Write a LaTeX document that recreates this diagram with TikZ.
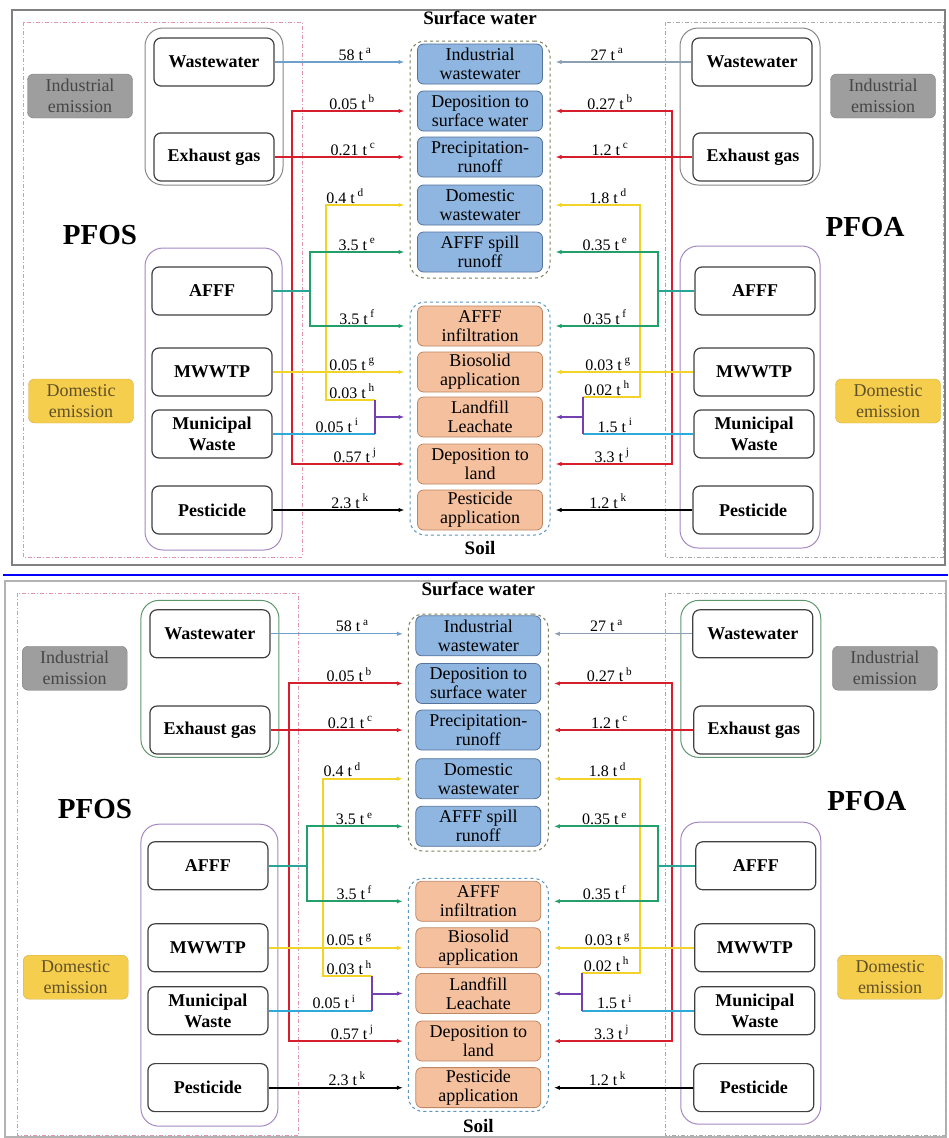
\documentclass[tikz,border=0pt]{standalone}
\usepackage{fontspec}
\setmainfont{Liberation Serif}
\usetikzlibrary{arrows.meta}

\definecolor{swfill}{RGB}{143,182,224}
\definecolor{swdraw}{RGB}{85,115,155}
\definecolor{soilfill}{RGB}{244,192,158}
\definecolor{soildraw}{RGB}{190,135,100}
\definecolor{indfill}{RGB}{158,158,158}
\definecolor{indtext}{RGB}{70,70,70}
\definecolor{domfill}{RGB}{246,206,78}
\definecolor{domtext}{RGB}{95,80,40}
\definecolor{wwblue}{RGB}{110,160,205}
\definecolor{wwgray}{RGB}{140,160,180}
\definecolor{flowred}{RGB}{215,30,45}
\definecolor{flowyel}{RGB}{242,212,40}
\definecolor{flowgrn}{RGB}{35,160,105}
\definecolor{flowteal}{RGB}{40,165,150}
\definecolor{flowpur}{RGB}{115,65,175}
\definecolor{flowcya}{RGB}{45,170,215}
\definecolor{indtop}{RGB}{135,135,135}
\definecolor{indbot}{RGB}{95,150,110}
\definecolor{domgrp}{RGB}{165,135,195}
\definecolor{swgrpc}{RGB}{120,130,90}
\definecolor{soilgrpc}{RGB}{90,150,190}
\definecolor{regpink}{RGB}{225,150,170}
\definecolor{reggray}{RGB}{170,170,170}

\tikzset{
  srcbox/.style={draw=black!75, line width=1.2pt, rounded corners=7pt, fill=white,
    minimum width=120pt, minimum height=48pt, inner sep=1pt, align=center,
    font=\fontsize{18}{21}\selectfont\bfseries},
  swbox/.style={draw=swdraw, fill=swfill, line width=0.8pt, rounded corners=6pt,
    minimum width=125pt, minimum height=40pt, inner sep=0pt, align=center,
    font=\fontsize{18}{19}\selectfont},
  soilbox/.style={swbox, draw=soildraw, fill=soilfill},
  indcat/.style={draw=indfill!80!black, fill=indfill, rounded corners=6pt,
    minimum width=105pt, minimum height=44pt, inner sep=0pt, align=center,
    text=indtext, font=\fontsize{18}{21}\selectfont},
  domcat/.style={indcat, draw=domfill!85!black, fill=domfill, text=domtext},
  grpbox/.style={line width=1pt, rounded corners=18pt, inner sep=0pt},
  swgrp/.style={draw=swgrpc, dashed, line width=1pt, rounded corners=15pt, inner sep=0pt},
  soilgrp/.style={swgrp, draw=soilgrpc},
  ttl/.style={font=\fontsize{19}{21}\selectfont\bfseries},
  subst/.style={font=\fontsize{29}{32}\selectfont\bfseries},
  flowlbl/.style={anchor=south, inner sep=1.5pt, font=\fontsize{16}{18}\selectfont},
  regline/.style={line width=0.8pt, dash pattern=on 4pt off 2pt on 1pt off 2pt},
  wwln/.style={wwblue, line width=1.2pt},
  redln/.style={flowred, line width=2pt},
  yelln/.style={flowyel, line width=2pt},
  grnln/.style={flowgrn, line width=2pt},
  tealln/.style={flowteal, line width=1.6pt},
  purln/.style={flowpur, line width=2pt},
  cyaln/.style={flowcya, line width=1.6pt},
  blkln/.style={black, line width=1.6pt},
  intogrp/.style={->, shorten >=5pt}
}

\begin{document}
\begin{tikzpicture}[x=1pt, y=-1pt, >={Latex[length=6pt,width=4.5pt]}]
\useasboundingbox (0,0) rectangle (948,1138);

% Frames
\draw[line width=2pt, black!50] (12,10) rectangle (945,565);
\draw[line width=2.5pt, blue] (3,575) -- (948,575);
\draw[line width=1.2pt, black!30] (5,581) rectangle (946,1137);

\foreach \sx/\sy/\xs/\ys/\pf/\gc in {0/0/1/1/t/indtop, -6/571/1.009/1.013/b/indbot}{
\begin{scope}[shift={(\sx,\sy)}, xscale=\xs, yscale=\ys, name prefix=\pf-]
  % Regions
  \draw[regline, draw=regpink] (23,22) rectangle (302,557);
  \draw[regline, draw=reggray] (665,22) rectangle (943,557);

  % Groups
  \node[grpbox, draw=\gc, minimum width=138pt, minimum height=157pt] (lig) at (214,106.5) {};
  \node[grpbox, draw=domgrp, minimum width=137pt, minimum height=302pt] (ldg) at (213.5,399) {};
  \node[grpbox, draw=\gc, minimum width=140pt, minimum height=157pt] (rig) at (750,106.5) {};
  \node[grpbox, draw=domgrp, minimum width=140pt, minimum height=302pt] (rdg) at (750,397) {};
  \node[swgrp, minimum width=140pt, minimum height=237pt] (swg) at (480,159.5) {};
  \node[soilgrp, minimum width=140pt, minimum height=233pt] (sog) at (480,418.5) {};

  % Nodes
  \node[ttl] (swt) at (480,18) {Surface water};
  \node[ttl] (sot) at (480,548) {Soil};
  \node[subst] (pfos) at (100,235) {PFOS};
  \node[subst] (pfoa) at (865,227) {PFOA};

  \node[indcat] (lic) at (80,96) {Industrial\\emission};
  \node[indcat] (ric) at (883,96) {Industrial\\emission};
  \node[domcat] (ldc) at (81,401) {Domestic\\emission};
  \node[domcat] (rdc) at (888,401) {Domestic\\emission};

  \node[srcbox] (lww) at (214,62) {Wastewater};
  \node[srcbox] (lex) at (214,157) {Exhaust gas};
  \node[srcbox] (laf) at (212,291) {AFFF};
  \node[srcbox] (lmw) at (212,372) {MWWTP};
  \node[srcbox] (lmu) at (212,434) {Municipal\\Waste};
  \node[srcbox] (lpe) at (212,510) {Pesticide};

  \node[srcbox] (rww) at (752,62) {Wastewater};
  \node[srcbox] (rex) at (753,157) {Exhaust gas};
  \node[srcbox] (raf) at (755,291) {AFFF};
  \node[srcbox] (rmw) at (754,372) {MWWTP};
  \node[srcbox] (rmu) at (754,434) {Municipal\\Waste};
  \node[srcbox] (rpe) at (753,510) {Pesticide};

  \node[swbox] (sw1) at (480,64) {Industrial\\wastewater};
  \node[swbox] (sw2) at (480,111) {Deposition to\\surface water};
  \node[swbox] (sw3) at (480,157) {Precipitation-\\runoff};
  \node[swbox] (sw4) at (480,205) {Domestic\\wastewater};
  \node[swbox] (sw5) at (480,252) {AFFF spill\\runoff};
  \node[soilbox] (so1) at (480,326) {AFFF\\infiltration};
  \node[soilbox] (so2) at (480,372) {Biosolid\\application};
  \node[soilbox] (so3) at (480,417) {Landfill\\Leachate};
  \node[soilbox] (so4) at (480,464) {Deposition to\\land};
  \node[soilbox] (so5) at (480,510) {Pesticide\\application};

  \coordinate (lrx) at (292,0);
  \coordinate (lgx) at (310,0);
  \coordinate (lyx) at (326,0);
  \coordinate (lhx) at (375,400);
  \coordinate (rrx) at (672,0);
  \coordinate (rgx) at (658,0);
  \coordinate (ryx) at (640,0);
  \coordinate (rhx) at (583,397);

  % Edges, PFOS
  \draw[wwln,intogrp] (lww.east) -- (lww.east -| swg.west);
  \draw[redln,intogrp] (lex.east) -- (lex.east -| swg.west);
  \draw[redln,intogrp] (lrx |- lex.east) |- (sw2.west -| swg.west);
  \draw[redln,intogrp] (lrx |- lex.east) |- (so4.west -| sog.west);
  \draw[yelln,intogrp] (lmw.east) -- (lmw.east -| sog.west);
  \draw[yelln,intogrp] (lyx |- lmw.east) |- (sw4.west -| swg.west);
  \draw[yelln] (lyx |- lmw.east) |- (lhx);
  \draw[tealln] (laf.east) -- (lgx |- laf.east);
  \draw[grnln,intogrp] (lgx |- laf.east) |- (sw5.west -| swg.west);
  \draw[grnln,intogrp] (lgx |- laf.east) |- (so1.west -| sog.west);
  \draw[cyaln] (lmu.east) -- (lhx |- lmu.east);
  \draw[purln] (lhx) -- (lhx |- lmu.east);
  \draw[purln,intogrp] (lhx |- so3.west) -- (so3.west -| sog.west);
  \draw[blkln,intogrp] (lpe.east) -- (lpe.east -| sog.west);

  % Edges, PFOA
  \draw[wwln,draw=wwgray,intogrp] (rww.west) -- (rww.west -| swg.east);
  \draw[redln,intogrp] (rex.west) -- (rex.west -| swg.east);
  \draw[redln,intogrp] (rrx |- rex.west) |- (sw2.east -| swg.east);
  \draw[redln,intogrp] (rrx |- rex.west) |- (so4.east -| sog.east);
  \draw[yelln,intogrp] (rmw.west) -- (rmw.west -| sog.east);
  \draw[yelln,intogrp] (ryx |- rmw.west) |- (sw4.east -| swg.east);
  \draw[yelln] (ryx |- rmw.west) |- (rhx);
  \draw[tealln] (raf.west) -- (rgx |- raf.west);
  \draw[grnln,intogrp] (rgx |- raf.west) |- (sw5.east -| swg.east);
  \draw[grnln,intogrp] (rgx |- raf.west) |- (so1.east -| sog.east);
  \draw[cyaln] (rmu.west) -- (rhx |- rmu.west);
  \draw[purln] (rhx) -- (rhx |- rmu.west);
  \draw[purln,intogrp] (rhx |- so3.east) -- (so3.east -| sog.east);
  \draw[blkln,intogrp] (rpe.west) -- (rpe.west -| sog.east);

  % Labels
  \node[flowlbl] (lfa) at (355,62) {58 t\,\textsuperscript{a}};
  \node[flowlbl] (lfb) at (352,111) {0.05 t\,\textsuperscript{b}};
  \node[flowlbl] (lfc) at (353,157) {0.21 t\,\textsuperscript{c}};
  \node[flowlbl] (lfd) at (345,205) {0.4 t\,\textsuperscript{d}};
  \node[flowlbl] (lfe) at (357,252) {3.5 t\,\textsuperscript{e}};
  \node[flowlbl] (lff) at (357,326) {3.5 t\,\textsuperscript{f}};
  \node[flowlbl] (lfg) at (352,372) {0.05 t\,\textsuperscript{g}};
  \node[flowlbl] (lfh) at (352,400) {0.03 t\,\textsuperscript{h}};
  \node[flowlbl] (lfi) at (337,434) {0.05 t\,\textsuperscript{i}};
  \node[flowlbl] (lfj) at (355,464) {0.57 t\,\textsuperscript{j}};
  \node[flowlbl] (lfk) at (350,510) {2.3 t\,\textsuperscript{k}};

  \node[flowlbl] (rfa) at (607,62) {27 t\,\textsuperscript{a}};
  \node[flowlbl] (rfb) at (610,111) {0.27 t\,\textsuperscript{b}};
  \node[flowlbl] (rfc) at (610,157) {1.2 t\,\textsuperscript{c}};
  \node[flowlbl] (rfd) at (608,205) {1.8 t\,\textsuperscript{d}};
  \node[flowlbl] (rfe) at (605,252) {0.35 t\,\textsuperscript{e}};
  \node[flowlbl] (rff) at (605,326) {0.35 t\,\textsuperscript{f}};
  \node[flowlbl] (rfg) at (608,372) {0.03 t\,\textsuperscript{g}};
  \node[flowlbl] (rfh) at (607,397) {0.02 t\,\textsuperscript{h}};
  \node[flowlbl] (rfi) at (615,434) {1.5 t\,\textsuperscript{i}};
  \node[flowlbl] (rfj) at (612,464) {3.3 t\,\textsuperscript{j}};
  \node[flowlbl] (rfk) at (608,510) {1.2 t\,\textsuperscript{k}};
\end{scope}
}
\end{tikzpicture}
\end{document}
